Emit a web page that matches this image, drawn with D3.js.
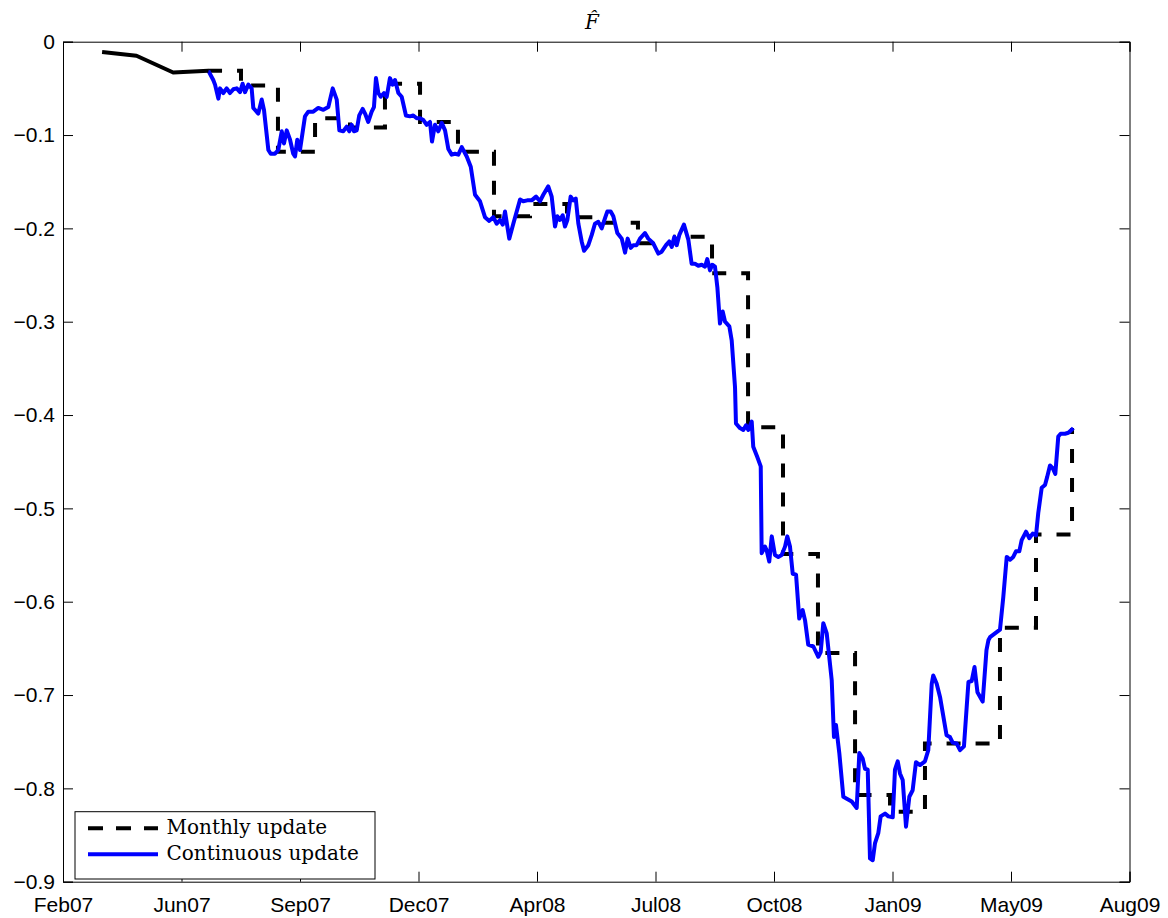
<!DOCTYPE html>
<html><head><meta charset="utf-8">
<script src="https://cdn.jsdelivr.net/npm/d3@7"></script>
<style>body{margin:0;background:#fff}</style>
</head><body>
<svg id="chart" width="1168" height="918"></svg>
<script>
// x values are days counted from the first axis tick (Feb07)
const tickDays = [0,100,200,300,400,500,600,700,800,900];
const tickLabels = ["Feb07","Jun07","Sep07","Dec07","Apr08","Jul08","Oct08","Jan09","May09","Aug09"];
const yTicks = [0,-0.1,-0.2,-0.3,-0.4,-0.5,-0.6,-0.7,-0.8,-0.9];

const preDays = [33, 62, 93, 122.6];
const preValues = [-0.011, -0.015, -0.033, -0.031];

const monthlyDays = [122.4,150.2,181.4,212.7,242.2,271.7,301.3,333.3,363.7,394.1,425.3,454.9,485.2,516.5,547.7,578.1,607.6,637.1,668.4,697.9,727.4,758.6,790.7,821.1,851.5];
const monthlyValues = [-0.031,-0.047,-0.118,-0.082,-0.092,-0.045,-0.086,-0.118,-0.187,-0.174,-0.188,-0.194,-0.216,-0.209,-0.248,-0.413,-0.549,-0.655,-0.807,-0.825,-0.752,-0.752,-0.628,-0.528,-0.414];

const contDays = [122.6,126.8,128.3,131.1,132.5,135.3,138.1,140.9,143.7,146.6,149.4,151.6,153.6,156.4,159.2,160.6,164.8,167.7,169.6,173.3,175.3,178.9,181.7,184.6,186.5,188.8,191.6,194.3,195.8,197.7,200.0,204.2,207.0,211.2,215.4,219.7,223.9,227.6,231.0,233.2,236.5,239.4,241.6,243.6,245.6,247.8,250.0,252.9,254.9,257.6,260.5,262.4,264.1,266.1,268.1,270.9,273.2,275.9,278.2,280.2,283.0,285.8,289.4,292.8,295.6,298.5,301.3,304.1,306.9,309.7,311.4,313.9,316.7,319.6,322.4,325.2,328.0,330.8,333.6,336.5,340.7,344.1,347.7,351.9,356.1,359.7,363.1,366.0,368.8,371.1,373.0,376.6,380.0,385.7,388.4,391.8,395.5,399.2,402.5,405.3,409.5,412.4,415.2,417.1,419.4,421.7,423.6,425.6,428.4,430.6,432.7,434.9,437.7,439.7,443.3,446.2,448.9,451.7,454.6,457.4,459.3,462.2,464.4,467.8,471.5,474.3,476.5,479.1,481.3,484.1,486.9,491.1,493.9,498.1,502.4,505.2,508.9,511.6,513.7,515.9,517.9,520.1,524.0,527.7,530.5,533.3,536.1,539.0,541.8,543.7,546.0,547.9,550.2,552.2,554.4,556.7,558.7,562.3,564.3,567.1,567.9,571.3,574.1,576.4,578.3,581.2,582.5,585.9,588.8,589.6,592.4,593.8,596.0,598.1,600.8,603.6,606.5,609.3,611.2,613.5,615.8,618.6,621.3,624.2,626.2,628.9,633.2,637.4,639.4,641.6,644.5,648.7,650.6,652.3,655.1,658.5,661.4,665.6,669.8,672.0,674.8,676.8,679.1,681.0,683.3,685.2,688.0,690.0,693.7,696.5,700.2,702.1,704.4,706.3,708.6,711.4,714.2,717.0,719.8,723.2,727.4,730.2,733.1,734.4,737.3,740.1,745.6,748.5,750.8,754.2,757.0,760.3,762.6,764.1,766.8,769.2,771.7,776.1,779.3,781.0,782.3,786.5,790.7,793.5,796.4,799.2,801.9,804.2,807.0,809.0,812.7,815.4,818.3,821.1,823.0,825.9,828.7,830.6,832.9,835.2,837.4,839.9,841.9,845.6,848.4,852.6];
const contValues = [-0.031,-0.041,-0.046,-0.061,-0.050,-0.055,-0.050,-0.055,-0.051,-0.050,-0.054,-0.045,-0.054,-0.046,-0.050,-0.071,-0.077,-0.062,-0.073,-0.116,-0.120,-0.120,-0.116,-0.096,-0.109,-0.095,-0.105,-0.120,-0.123,-0.105,-0.116,-0.080,-0.075,-0.075,-0.071,-0.073,-0.070,-0.050,-0.062,-0.095,-0.096,-0.091,-0.096,-0.089,-0.096,-0.095,-0.079,-0.072,-0.077,-0.086,-0.075,-0.070,-0.039,-0.055,-0.059,-0.055,-0.059,-0.039,-0.046,-0.041,-0.055,-0.059,-0.079,-0.080,-0.079,-0.082,-0.082,-0.084,-0.089,-0.086,-0.107,-0.089,-0.096,-0.087,-0.095,-0.115,-0.121,-0.120,-0.121,-0.113,-0.123,-0.134,-0.164,-0.171,-0.188,-0.192,-0.188,-0.195,-0.191,-0.196,-0.182,-0.211,-0.195,-0.169,-0.171,-0.170,-0.170,-0.166,-0.171,-0.164,-0.155,-0.166,-0.198,-0.187,-0.191,-0.186,-0.198,-0.191,-0.166,-0.170,-0.168,-0.195,-0.214,-0.224,-0.218,-0.207,-0.195,-0.193,-0.200,-0.189,-0.182,-0.182,-0.187,-0.205,-0.211,-0.226,-0.211,-0.221,-0.218,-0.218,-0.211,-0.205,-0.211,-0.216,-0.227,-0.225,-0.218,-0.214,-0.220,-0.209,-0.218,-0.207,-0.196,-0.212,-0.238,-0.238,-0.240,-0.239,-0.241,-0.233,-0.245,-0.239,-0.241,-0.263,-0.302,-0.289,-0.300,-0.305,-0.320,-0.370,-0.409,-0.414,-0.416,-0.411,-0.416,-0.407,-0.434,-0.445,-0.455,-0.548,-0.541,-0.545,-0.557,-0.530,-0.550,-0.552,-0.550,-0.541,-0.530,-0.541,-0.570,-0.571,-0.618,-0.609,-0.620,-0.646,-0.648,-0.659,-0.654,-0.623,-0.634,-0.684,-0.745,-0.732,-0.762,-0.809,-0.811,-0.814,-0.821,-0.762,-0.768,-0.779,-0.780,-0.875,-0.877,-0.859,-0.848,-0.830,-0.827,-0.830,-0.831,-0.780,-0.771,-0.784,-0.791,-0.841,-0.809,-0.802,-0.772,-0.775,-0.771,-0.759,-0.688,-0.679,-0.688,-0.702,-0.743,-0.745,-0.751,-0.752,-0.759,-0.755,-0.713,-0.686,-0.685,-0.670,-0.697,-0.707,-0.652,-0.641,-0.638,-0.634,-0.630,-0.595,-0.552,-0.555,-0.552,-0.546,-0.546,-0.534,-0.525,-0.532,-0.527,-0.529,-0.505,-0.478,-0.475,-0.466,-0.454,-0.457,-0.463,-0.423,-0.420,-0.420,-0.419,-0.414];

const seriesNames = ["Monthly update", "Continuous update"];
const titleText = "F\u0302";

const svg = d3.select("#chart");
const L = 63, R = 1129.5, T = 41.7, B = 881.7;
const x = d3.scaleLinear().domain([0, 900]).range([L, R]);
const y = d3.scaleLinear().domain([-0.9, 0]).range([B, T]);

function pairs(xs, ys) {
  const n = Math.min(xs.length, ys.length);
  return d3.range(n).map(i => [xs[i], ys[i]]);
}

const tickFont = "'Liberation Sans', Arial, Helvetica, sans-serif";
const tickLen = 10;

svg.append("rect").attr("x", L).attr("y", T).attr("width", R - L).attr("height", B - T)
  .attr("fill", "#fff").attr("stroke", "none");

// Axes (ticks inward) on all four sides
const xBottom = d3.axisBottom(x).tickValues(tickDays).tickSize(-tickLen).tickPadding(15)
  .tickFormat((d, i) => tickLabels[i]);
const gxb = svg.append("g").attr("transform", `translate(0,${B})`).call(xBottom);
const xTop = d3.axisTop(x).tickValues(tickDays).tickSize(-tickLen).tickFormat("");
const gxt = svg.append("g").attr("transform", `translate(0,${T})`).call(xTop);
const yLeft = d3.axisLeft(y).tickValues(yTicks).tickSize(-tickLen).tickPadding(8)
  .tickFormat(d => d === 0 ? "0" : d3.format(".1f")(d));
const gyl = svg.append("g").attr("transform", `translate(${L},0)`).call(yLeft);
const yRight = d3.axisRight(y).tickValues(yTicks).tickSize(-tickLen).tickFormat("");
const gyr = svg.append("g").attr("transform", `translate(${R},0)`).call(yRight);

[gxb, gxt, gyl, gyr].forEach(g => {
  g.select(".domain").attr("stroke", "#000").attr("stroke-width", 1);
  g.selectAll(".tick line").attr("stroke", "#000").attr("stroke-width", 1);
  g.selectAll("text").attr("font-family", tickFont).attr("font-size", 21).attr("fill", "#000");
});

// Lines
const line = d3.line().x(d => x(d[0])).y(d => y(d[1]));
const stair = d3.line().x(d => x(d[0])).y(d => y(d[1])).curve(d3.curveStepAfter);

svg.append("path").datum(pairs(monthlyDays, monthlyValues))
  .attr("d", stair).attr("fill", "none").attr("stroke", "#000")
  .attr("stroke-width", 4).attr("stroke-dasharray", "14,15");

svg.append("path").datum(pairs(contDays, contValues))
  .attr("d", line).attr("fill", "none").attr("stroke", "#0000ff")
  .attr("stroke-width", 4).attr("stroke-linejoin", "round");

svg.append("path").datum(pairs(preDays, preValues))
  .attr("d", line).attr("fill", "none").attr("stroke", "#000")
  .attr("stroke-width", 4).attr("stroke-linejoin", "round");

// Title
svg.append("text").attr("x", 592).attr("y", 28.5).attr("text-anchor", "middle")
  .attr("font-family", "'DejaVu Serif', serif").attr("font-style", "italic")
  .attr("font-size", 20).text(titleText);

// Legend
const lg = svg.append("g");
lg.append("rect").attr("x", 75).attr("y", 811.7).attr("width", 300).attr("height", 67.3)
  .attr("fill", "#fff").attr("stroke", "#000").attr("stroke-width", 1);
const legendRows = [
  {name: seriesNames[0], color: "#000", dash: "15,13", y: 828.3},
  {name: seriesNames[1], color: "#0000ff", dash: null, y: 854.3}
];
legendRows.forEach(r => {
  lg.append("line").attr("x1", 88).attr("x2", 158).attr("y1", r.y).attr("y2", r.y)
    .attr("stroke", r.color).attr("stroke-width", 4)
    .attr("stroke-dasharray", r.dash);
  lg.append("text").attr("x", 166.5).attr("y", r.y + 5.5)
    .attr("font-family", "'DejaVu Serif', serif").attr("font-size", 20)
    .text(r.name);
});
</script>
</body></html>
